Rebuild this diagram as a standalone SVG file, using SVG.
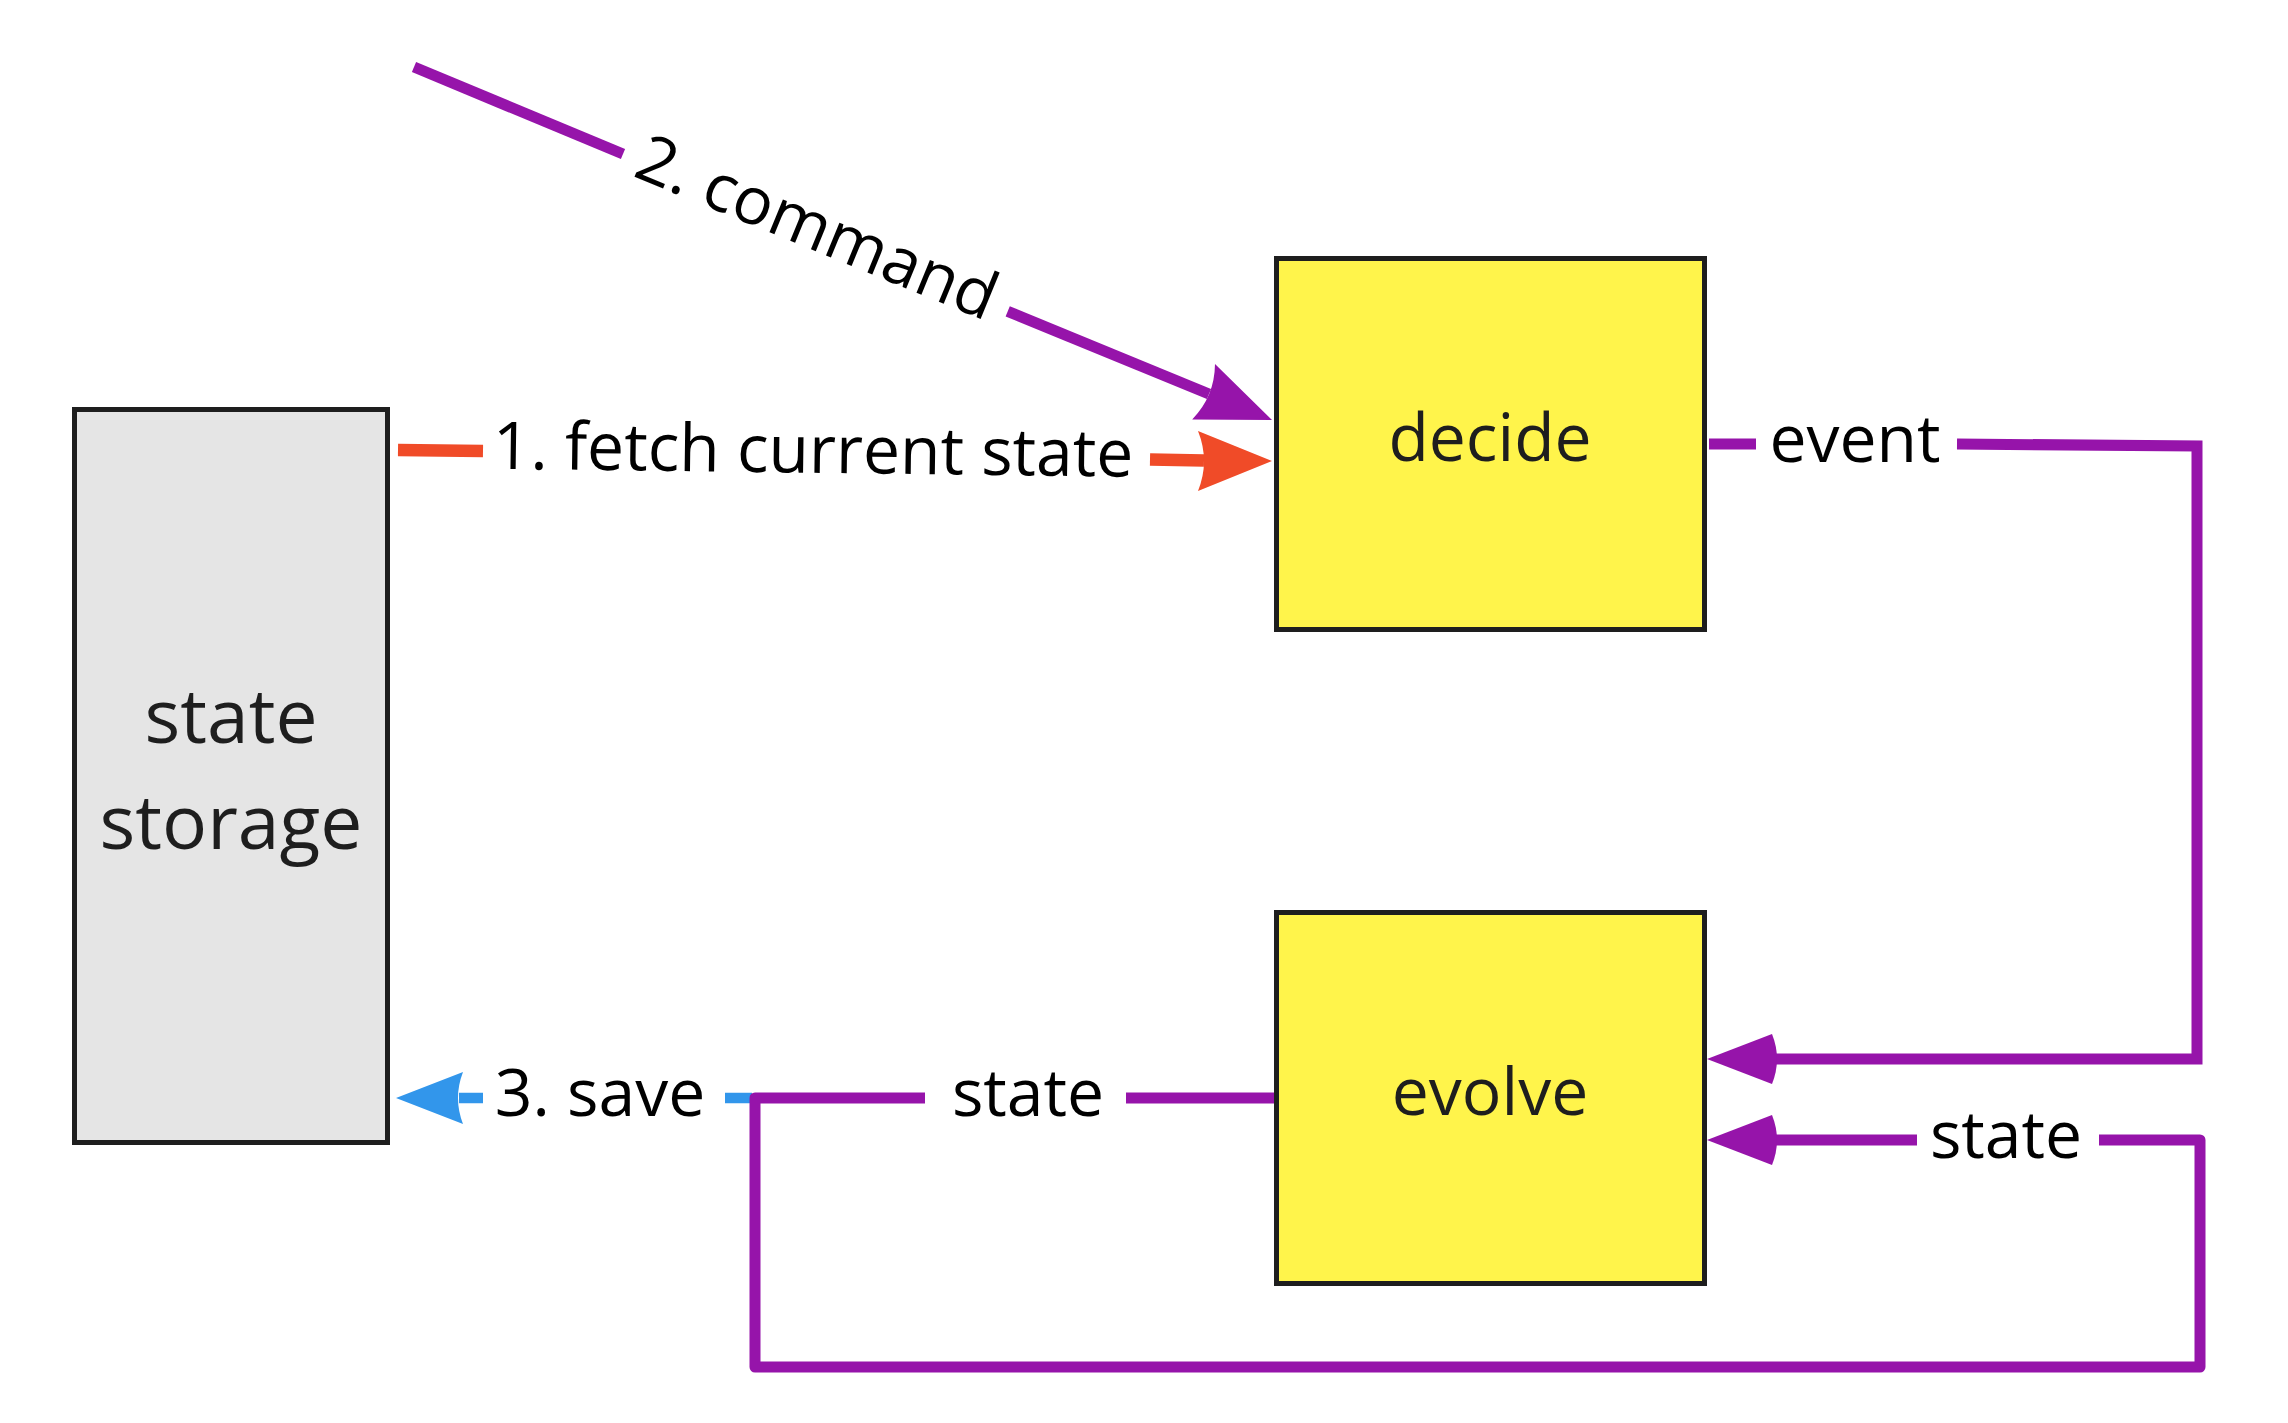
<svg xmlns="http://www.w3.org/2000/svg" width="2288" height="1423" viewBox="0 0 2288 1423">
<style>
text{font-family:"Open Sans","Noto Sans","DejaVu Sans",sans-serif;font-size:66px;fill:#000}
.node rect{stroke:#1e1e1e;stroke-width:5}
.node text{fill:#1e1e1e;text-anchor:middle}
.proc{fill:#fff44b}
.store{fill:#e5e5e5}
.c{fill:none;stroke-linecap:butt}
.p{stroke:#9614aa;stroke-width:11}
.r{stroke:#f04b28;stroke-width:12.5}
.b{stroke:#3296eb;stroke-width:10.5}
.hp{fill:#9614aa}
.hr{fill:#f04b28}
.hb{fill:#3296eb}
.lbl{text-anchor:middle}
</style>
<rect width="2288" height="1423" fill="#fff"/>
<g id="connectors">
<!-- 2. command -->
<g id="edge-command">
<line class="c p" x1="414" y1="67" x2="623" y2="154"/>
<line class="c p" x1="1007.7" y1="311.3" x2="1209" y2="394"/>
<path class="hp" d="M1272,420 L1215,364.1 Q1214.7,396.4 1192.2,419.5 Z"/>
<g transform="translate(815.4,232.1) rotate(22.36)"><text class="lbl" x="0" y="17.5">2. command</text></g>
</g>
<!-- 1. fetch current state -->
<g id="edge-fetch">
<line class="c r" x1="398" y1="450" x2="483" y2="451.1"/>
<line class="c r" x1="1150" y1="459.5" x2="1204" y2="460.5"/>
<path class="hr" d="M1272,461 L1198,431 Q1210,461 1198,491 Z"/>
<g transform="translate(813,455.2) rotate(0.72)"><text class="lbl" x="0" y="17.5">1. fetch current state</text></g>
</g>
<!-- event -->
<g id="edge-event">
<line class="c p" x1="1709" y1="444" x2="1756" y2="444"/>
<polyline class="c p" stroke-linejoin="miter" points="1957,444 2197,446 2197,1059 1776,1059"/>
<path class="hp" d="M1707,1059 L1772,1034 Q1782,1059 1772,1084 Z"/>
<text class="lbl" x="1855" y="461.5">event</text>
</g>
<!-- 3. save -->
<g id="edge-save">
<line class="c b" x1="752" y1="1098" x2="725" y2="1098"/>
<line class="c b" x1="483" y1="1098" x2="459" y2="1098"/>
<path class="hb" d="M396,1098 L463,1072 Q453,1098 463,1124 Z"/>
<text class="lbl" x="600" y="1115.5">3. save</text>
</g>
<!-- state loop -->
<g id="edge-state">
<line class="c p" x1="1275" y1="1098" x2="1126" y2="1098"/>
<polyline class="c p" stroke-linejoin="round" points="925,1098 755,1098 755,1367 2200,1367 2200,1140 2099,1140"/>
<line class="c p" x1="1917" y1="1140" x2="1776" y2="1140"/>
<path class="hp" d="M1707,1140 L1772,1115 Q1782,1140 1772,1165 Z"/>
<text class="lbl" x="1028" y="1115.5">state</text>
<text class="lbl" x="2006" y="1157.5">state</text>
</g>
</g>
<g id="node-storage" class="node">
<rect class="store" x="74.5" y="409.5" width="313" height="733"/>
<text x="231" y="743" style="font-size:75px">state</text>
<text x="231" y="849" style="font-size:75px">storage</text>
</g>
<g id="node-decide" class="node">
<rect class="proc" x="1276.5" y="258.5" width="428" height="371"/>
<text x="1490" y="461">decide</text>
</g>
<g id="node-evolve" class="node">
<rect class="proc" x="1276.5" y="912.5" width="428" height="371"/>
<text x="1490" y="1115">evolve</text>
</g>
</svg>
